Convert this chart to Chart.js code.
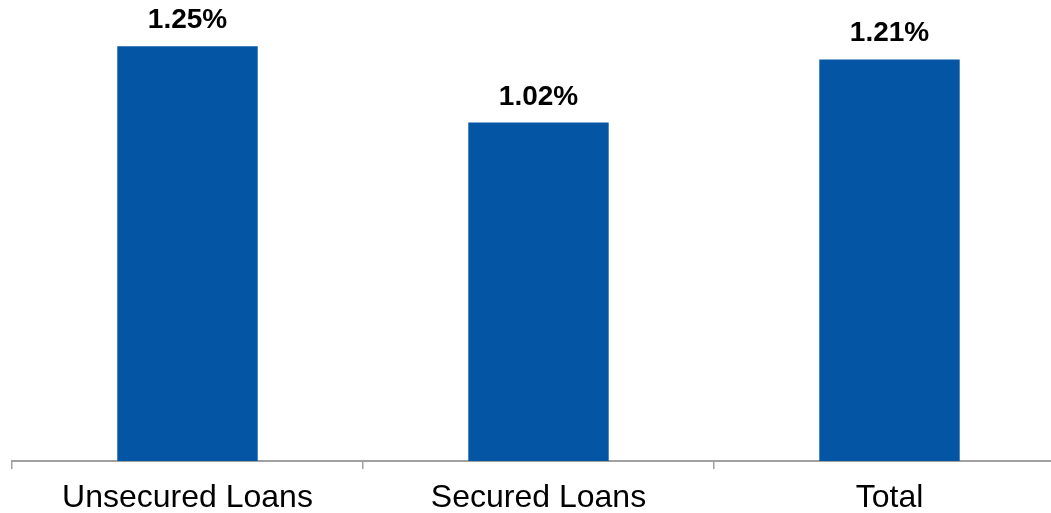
<!DOCTYPE html>
<html>
<head>
<meta charset="utf-8">
<script src="https://cdn.jsdelivr.net/npm/chart.js@4/dist/chart.umd.min.js"></script>
<style>
  html, body { margin: 0; padding: 0; background: #fff; overflow: hidden; }
  #wrap { width: 1066px; height: 527px; }
</style>
</head>
<body>
<div id="wrap"><canvas id="lossChart"></canvas></div>
<script>
// data
const categories = ['Unsecured Loans', 'Secured Loans', 'Total'];
const rates = [1.25, 1.02, 1.21];
const rateLabels = ['1.25%', '1.02%', '1.21%'];

const barColor = '#0455A4';
const axisColor = '#a0a0a0';

// simple value labels above each bar (no datalabels plugin available)
const valueLabels = {
    id: 'valueLabels',
    afterDatasetsDraw(chart) {
        const { ctx } = chart;
        const meta = chart.getDatasetMeta(0);
        ctx.save();
        ctx.font = 'bold 28px "Liberation Sans", Arial, sans-serif';
        ctx.fillStyle = '#000';
        ctx.textAlign = 'center';
        ctx.textBaseline = 'alphabetic';
        meta.data.forEach((bar, i) => {
            ctx.fillText(rateLabels[i], bar.x, bar.y - 18);
        });
        ctx.restore();
    }
};

new Chart(document.getElementById('lossChart'), {
    type: 'bar',
    data: {
        labels: categories,
        datasets: [{
            data: rates,
            backgroundColor: barColor,
            borderWidth: 0,
            barPercentage: 0.4,
            categoryPercentage: 1.0
        }]
    },
    options: {
        responsive: true,
        maintainAspectRatio: false,
        animation: false,
        layout: { padding: { left: 12, right: 1, top: 13, bottom: 0 } },
        plugins: {
            legend: { display: false },
            tooltip: { enabled: false }
        },
        scales: {
            x: {
                offset: true,
                border: { display: true, color: axisColor, width: 2 },
                grid: {
                    offset: true,
                    drawOnChartArea: false,
                    drawTicks: true,
                    tickLength: 8,
                    color: axisColor,
                    lineWidth: 1.5
                },
                ticks: {
                    color: '#000',
                    padding: 13,
                    maxRotation: 0,
                    font: { family: '"Liberation Sans", Arial, sans-serif', size: 32, lineHeight: 1.0 }
                }
            },
            y: {
                display: false,
                min: 0,
                max: 1.35
            }
        }
    },
    plugins: [valueLabels]
});
</script>
</body>
</html>
